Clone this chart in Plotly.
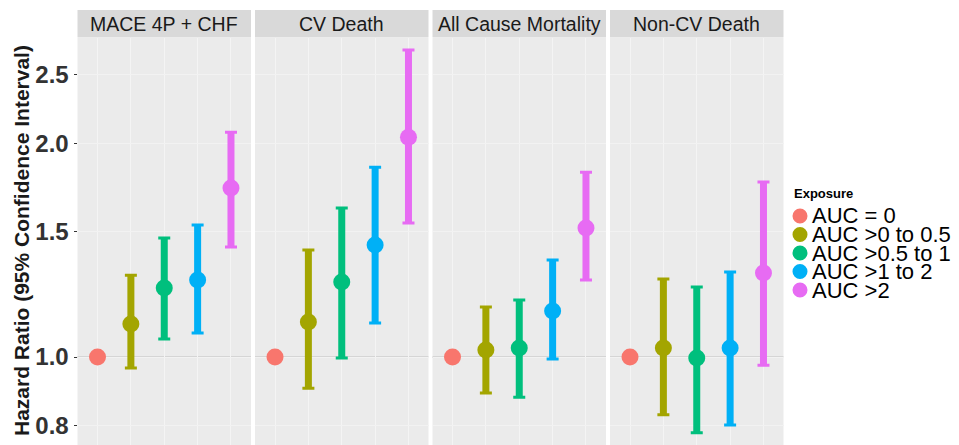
import plotly.graph_objects as go

# ---------------- data ----------------
exposures = ["AUC = 0", "AUC >0 to 0.5", "AUC >0.5 to 1", "AUC >1 to 2", "AUC >2"]
endpoints = ["MACE 4P + CHF", "CV Death", "All Cause Mortality", "Non-CV Death"]

hr_mace = [1.0, 1.113, 1.251, 1.284, 1.73]
lo_mace = [1.0, 0.965, 1.06, 1.081, 1.429]
hi_mace = [1.0, 1.304, 1.471, 1.534, 2.073]

hr_cv = [1.0, 1.12, 1.275, 1.438, 2.04]
lo_cv = [1.0, 0.904, 0.997, 1.117, 1.544]
hi_cv = [1.0, 1.415, 1.621, 1.851, 2.706]

hr_acm = [1.0, 1.023, 1.03, 1.161, 1.519]
lo_acm = [1.0, 0.89, 0.878, 0.994, 1.284]
hi_acm = [1.0, 1.176, 1.203, 1.37, 1.821]

hr_ncv = [1.0, 1.03, 0.997, 1.03, 1.313]
lo_ncv = [1.0, 0.829, 0.782, 0.802, 0.974]
hi_ncv = [1.0, 1.288, 1.255, 1.317, 1.764]

y_ticks = [0.8, 1.0, 1.5, 2.0, 2.5]
y_ticktext = ["0.8", "1.0", "1.5", "2.0", "2.5"]

colors = ["#F8766D", "#A3A500", "#00BF7D", "#00B0F6", "#E76BF3"]

# ---------------- layout geometry (px) ----------------
W, H = 959, 445
panel_left = [77.5, 255.0, 432.5, 610.0]
panel_w = 173.5
plot_top = 38
strip_top = 10
FONT = "Liberation Sans, Arial, sans-serif"

def px_x(v):
    return v / W

def px_y(v):
    return 1 - v / H

series = [(hr_mace, lo_mace, hi_mace), (hr_cv, lo_cv, hi_cv),
          (hr_acm, lo_acm, hi_acm), (hr_ncv, lo_ncv, hi_ncv)]

fig = go.Figure()
layout = dict(
    width=W, height=H,
    margin=dict(l=0, r=0, t=0, b=0),
    paper_bgcolor="white", plot_bgcolor="#EBEBEB",
    showlegend=False,
    font=dict(family=FONT),
)
shapes = []
annotations = []

for p, (hr, lo, hi) in enumerate(series):
    xa = "x" if p == 0 else f"x{p+1}"
    ya = "y" if p == 0 else f"y{p+1}"
    xk = "xaxis" if p == 0 else f"xaxis{p+1}"
    yk = "yaxis" if p == 0 else f"yaxis{p+1}"
    x0 = panel_left[p]
    x1 = x0 + panel_w
    layout[xk] = dict(
        domain=[px_x(x0), px_x(x1)], anchor=ya, range=[-0.6, 4.6],
        tickvals=list(range(len(exposures))), showticklabels=False, ticks="",
        showgrid=True, gridcolor="#F4F4F4", gridwidth=1, zeroline=False,
        showline=False, fixedrange=True,
    )
    ydict = dict(
        domain=[0, px_y(plot_top)], anchor=xa, type="log",
        range=[-0.1239, 0.4493], tickvals=y_ticks, ticktext=y_ticktext,
        showgrid=True, gridcolor="#F2F2F2", gridwidth=1, zeroline=False,
        showline=False, fixedrange=True,
    )
    if p == 0:
        ydict.update(ticks="outside", ticklen=3, tickcolor="#333333",
                     tickfont=dict(size=24, color="#333333", family=FONT, weight="bold"))
    else:
        ydict.update(showticklabels=False, ticks="", matches="y")
    layout[yk] = ydict

    # reference line at HR = 1
    shapes.append(dict(type="line", xref=f"{xa} domain", yref=ya, x0=0, x1=1,
                       y0=1, y1=1, line=dict(color="#BDBDBD", width=1), layer="below"))
    # strip
    shapes.append(dict(type="rect", xref="paper", yref="paper",
                       x0=px_x(x0), x1=px_x(x1), y0=px_y(plot_top - 0.5), y1=px_y(strip_top),
                       fillcolor="#D9D9D9", line=dict(width=0)))
    annotations.append(dict(text=endpoints[p], xref="paper", yref="paper",
                            x=px_x((x0 + x1) / 2), y=px_y((strip_top + plot_top) / 2),
                            xanchor="center", yanchor="middle", showarrow=False,
                            font=dict(size=19.5, color="#1A1A1A", family=FONT)))

    for i in range(len(exposures)):
        if i > 0:
            # thin error bar carrying the end caps
            fig.add_trace(go.Scatter(
                x=[i], y=[hr[i]], mode="markers", xaxis=xa, yaxis=ya,
                marker=dict(size=1, opacity=0),
                error_y=dict(type="data", symmetric=False,
                             array=[hi[i] - hr[i]], arrayminus=[hr[i] - lo[i]],
                             color=colors[i], thickness=3, width=6),
                hoverinfo="skip", showlegend=False))
            err = dict(type="data", symmetric=False,
                       array=[hi[i] - hr[i]], arrayminus=[hr[i] - lo[i]],
                       color=colors[i], thickness=7, width=0)
        else:
            err = dict(visible=False)
        fig.add_trace(go.Scatter(
            x=[i], y=[hr[i]], mode="markers", xaxis=xa, yaxis=ya,
            marker=dict(size=17, color=colors[i], line=dict(width=0)),
            error_y=err, name=exposures[i], showlegend=False))

# y axis title
annotations.append(dict(text="<b>Hazard Ratio (95% Confidence Interval)</b>",
                        xref="paper", yref="paper", x=px_x(21), y=px_y(241),
                        xanchor="center", yanchor="middle", textangle=-90,
                        showarrow=False, font=dict(size=21, color="#1A1A1A", family=FONT)))

# custom legend (tight, ggplot-like)
annotations.append(dict(text="<b>Exposure</b>", xref="paper", yref="paper",
                        x=px_x(792), y=px_y(193), xanchor="left", yanchor="middle",
                        showarrow=False, font=dict(size=13, color="#000000", family=FONT)))
leg_y0 = 216
leg_dy = 18.5
for i, lab in enumerate(exposures):
    yc = leg_y0 + i * leg_dy
    shapes.append(dict(type="circle", xref="paper", yref="paper",
                       xsizemode="pixel", ysizemode="pixel",
                       xanchor=px_x(800), yanchor=px_y(yc),
                       x0=-7.5, x1=7.5, y0=-7.5, y1=7.5,
                       fillcolor=colors[i], line=dict(width=0)))
    annotations.append(dict(text=lab, xref="paper", yref="paper",
                            x=px_x(810), y=px_y(yc), xanchor="left", yanchor="middle",
                            showarrow=False, font=dict(size=22, color="#000000", family=FONT)))

layout["shapes"] = shapes
layout["annotations"] = annotations
fig.update_layout(**layout)

fig.write_html("out.html", config={"displayModeBar": False},
               post_script="document.body.style.margin='0';document.body.style.padding='0';")
